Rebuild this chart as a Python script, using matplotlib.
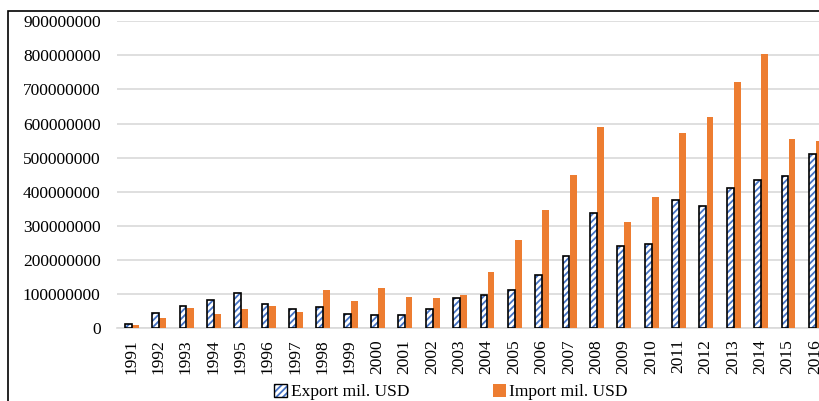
import matplotlib
matplotlib.use("Agg")
from matplotlib import pyplot as plt
from matplotlib.patches import Rectangle, Patch
import numpy as np

years = [str(y) for y in range(1991, 2017)]
# values, USD
export_usd = [11e6, 43e6, 64e6, 83e6, 102e6, 71e6, 56e6, 61e6, 41e6, 37e6,
              38e6, 56e6, 89e6, 98e6, 112e6, 155e6, 211e6, 336e6, 240e6, 247e6,
              376e6, 357e6, 410e6, 433e6, 446e6, 512e6]
import_usd = [8e6, 30e6, 58e6, 41e6, 55e6, 65e6, 48e6, 112e6, 80e6, 118e6,
              92e6, 89e6, 96e6, 164e6, 257e6, 346e6, 449e6, 589e6, 311e6, 385e6,
              573e6, 619e6, 721e6, 803e6, 554e6, 550e6]
y_ticks = np.arange(0, 900000001, 100000000)

blue = "#4472C4"
orange = "#ED7D31"
grid_grey = "#D9D9D9"

plt.rcParams["font.family"] = ["Liberation Serif", "DejaVu Serif"]
plt.rcParams["hatch.linewidth"] = 1.3

fig = plt.figure(figsize=(8.2, 4.01), dpi=100)
# axes runs past the right edge, like the cropped original
ax = fig.add_axes([117.3 / 820, 1 - 328 / 401, 711.4 / 820, (328 - 21.3) / 401])

x = np.arange(len(years))
w = 0.25
# export: white bar with blue hatching, then black outline on top
ax.bar(x - 0.1, export_usd, w, color="white", edgecolor=blue, hatch="/////",
       linewidth=0, zorder=3)
ax.bar(x - 0.1, export_usd, w, fill=False, edgecolor="black", linewidth=1.2,
       zorder=4)
ax.bar(x + 0.16, import_usd, w, color=orange, linewidth=0, zorder=3)

ax.set_xlim(-0.5, len(years) - 0.5)
ax.set_ylim(0, 900000000)
ax.set_yticks(y_ticks)
ax.set_yticklabels([str(int(v)) for v in y_ticks])
ax.set_xticks(x)
ax.set_xticklabels(years, rotation=90)
ax.tick_params(axis="both", length=0, labelsize=12.5)
ax.tick_params(axis="y", pad=12)
ax.tick_params(axis="x", pad=8)
ax.yaxis.grid(True, color=grid_grey, linewidth=1.2, zorder=0)
ax.set_axisbelow(True)
for s in ["top", "right", "left"]:
    ax.spines[s].set_visible(False)
ax.spines["bottom"].set_color(grid_grey)
ax.spines["bottom"].set_linewidth(1.2)

exp_handle = (Patch(facecolor="white", edgecolor=blue, hatch="/////", linewidth=0),
              Patch(fill=False, edgecolor="black", linewidth=1))
imp_handle = Patch(facecolor=orange, linewidth=0)
leg = fig.legend([exp_handle, imp_handle], ["Export mil. USD", "Import mil. USD"],
                 ncol=2, loc="center", bbox_to_anchor=(451 / 820, 1 - 392 / 401),
                 frameon=False, fontsize=12.5, handlelength=0.75, handleheight=0.75,
                 handletextpad=0.2, columnspacing=4.8)

# outer frame of the chart area, only left and top edges visible
fig.patches.append(Rectangle((8 / 820, -0.1), 1.0, 1 - 10.5 / 401 + 0.1,
                             transform=fig.transFigure, fill=False,
                             edgecolor="black", linewidth=1.2))

fig.savefig("out.png", dpi=100)
